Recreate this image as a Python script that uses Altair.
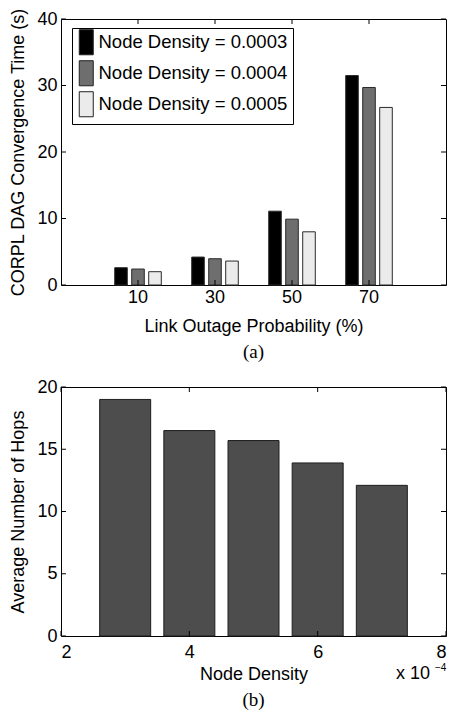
import altair as alt
import pandas as pd

# ---- data: panel (a)
groups = ["10", "30", "50", "70"]
series = ["Node Density = 0.0003", "Node Density = 0.0004", "Node Density = 0.0005"]
time_d3 = [2.6, 4.2, 11.1, 31.5]
time_d4 = [2.4, 3.95, 9.9, 29.7]
time_d5 = [2.0, 3.6, 8.0, 26.7]
series_colors = ["#000000", "#6e6e6e", "#ebebeb"]
y1_ticks = [0, 10, 20, 30, 40]

# ---- data: panel (b)
density = [3, 4, 5, 6, 7]  # x 10^-4
hops = [19.0, 16.5, 15.7, 13.9, 12.1]
x2_ticks = [2, 4, 6, 8]
y2_ticks = [0, 5, 10, 15, 20]
exp_base = ["x 10"]
exp_power = ["\u22124"]

W = 385
H1 = 266
H2 = 249
FONT = "Liberation Sans"
SERIF = "Liberation Serif"
FS = 18
TK = 5

rows = []
for s, vals in zip(series, [time_d3, time_d4, time_d5]):
    for g, v in zip(groups, vals):
        rows.append({"group": g, "series": s, "time": v})
df1 = pd.DataFrame(rows)

xscale1 = alt.Scale(domain=groups, paddingInner=0, paddingOuter=0.5)
yscale1 = alt.Scale(domain=[0, 40], nice=False)
xaxis1 = alt.Axis(title="Link Outage Probability (%)", labelAngle=0, labelPadding=3, titlePadding=11)
yaxis1 = alt.Axis(values=y1_ticks, title="CORPL DAG Convergence Time (s)")

bars1 = alt.Chart(df1).mark_bar(stroke="#2a2a2a", strokeWidth=1).encode(
    x=alt.X("group:N", scale=xscale1, sort=groups, axis=xaxis1),
    xOffset=alt.XOffset("series:N", sort=series,
                        scale=alt.Scale(paddingInner=0.26, paddingOuter=0.895)),
    y=alt.Y("time:Q", scale=yscale1, axis=yaxis1),
    fill=alt.Fill("series:N", sort=series,
                  scale=alt.Scale(domain=series, range=series_colors),
                  legend=alt.Legend(title=None, orient="none", legendX=11, legendY=9,
                                    strokeColor="black", fillColor="white", padding=5,
                                    symbolType="M-1,-1.79H1V1.79H-1Z", symbolSize=196,
                                    symbolStrokeColor="#222222", symbolStrokeWidth=1,
                                    labelFont=FONT, labelFontSize=18.5, labelColor="black",
                                    labelOffset=3, rowPadding=1, labelLimit=0)),
)

gdf = pd.DataFrame({"group": groups})
xt_top = alt.Chart(gdf).mark_rule(color="black").encode(
    x=alt.X("group:N", scale=xscale1, sort=groups, axis=xaxis1),
    y=alt.value(0), y2=alt.value(TK))
xt_bot = alt.Chart(gdf).mark_rule(color="black").encode(
    x=alt.X("group:N", scale=xscale1, sort=groups, axis=xaxis1),
    y=alt.value(H1 - TK), y2=alt.value(H1))
ydf1 = pd.DataFrame({"time": y1_ticks})
yt_l1 = alt.Chart(ydf1).mark_rule(color="black").encode(
    y=alt.Y("time:Q", scale=yscale1, axis=yaxis1), x=alt.value(0), x2=alt.value(TK))
yt_r1 = alt.Chart(ydf1).mark_rule(color="black").encode(
    y=alt.Y("time:Q", scale=yscale1, axis=yaxis1), x=alt.value(W - TK), x2=alt.value(W))

top = alt.layer(bars1, xt_top, xt_bot, yt_l1, yt_r1).properties(
    width=W, height=H1,
    title=alt.Title("(a)", orient="bottom", font=SERIF, fontSize=19,
                    fontWeight="normal", color="black", offset=8))

# ---- panel (b)
df2 = pd.DataFrame({"density": density, "hops": hops})
xscale2 = alt.Scale(domain=[2, 8], nice=False, padding=0)
yscale2 = alt.Scale(domain=[0, 20], nice=False)
xaxis2 = alt.Axis(values=x2_ticks, title="Node Density",
                  labelPadding=7, titlePadding=4)
yaxis2 = alt.Axis(values=y2_ticks, title="Average Number of Hops")

bars2 = alt.Chart(df2).mark_bar(size=51, color="#4d4d4d", stroke="#1e1e1e", strokeWidth=1).encode(
    x=alt.X("density:Q", scale=xscale2, axis=xaxis2),
    y=alt.Y("hops:Q", scale=yscale2, axis=yaxis2),
)
xdf2 = pd.DataFrame({"density": x2_ticks})
xt_top2 = alt.Chart(xdf2).mark_rule(color="black").encode(
    x=alt.X("density:Q", scale=xscale2, axis=xaxis2), y=alt.value(0), y2=alt.value(TK))
xt_bot2 = alt.Chart(xdf2).mark_rule(color="black").encode(
    x=alt.X("density:Q", scale=xscale2, axis=xaxis2), y=alt.value(H2 - TK), y2=alt.value(H2))
ydf2 = pd.DataFrame({"hops": y2_ticks})
yt_l2 = alt.Chart(ydf2).mark_rule(color="black").encode(
    y=alt.Y("hops:Q", scale=yscale2, axis=yaxis2), x=alt.value(0), x2=alt.value(TK))
yt_r2 = alt.Chart(ydf2).mark_rule(color="black").encode(
    y=alt.Y("hops:Q", scale=yscale2, axis=yaxis2), x=alt.value(W - TK), x2=alt.value(W))

exp1 = alt.Chart(pd.DataFrame({"t": exp_base})).mark_text(
    align="left", baseline="alphabetic", font=FONT, fontSize=FS, color="black").encode(
    text="t:N", x=alt.value(335), y=alt.value(292))
exp2 = alt.Chart(pd.DataFrame({"t": exp_power})).mark_text(
    align="left", baseline="alphabetic", font=FONT, fontSize=10, color="black").encode(
    text="t:N", x=alt.value(374), y=alt.value(284))

bottom = alt.layer(bars2, xt_top2, xt_bot2, yt_l2, yt_r2, exp1, exp2).properties(
    width=W, height=H2,
    title=alt.Title("(b)", orient="bottom", font=SERIF, fontSize=19,
                    fontWeight="normal", color="black", offset=8))

chart = alt.vconcat(top, bottom, spacing=14).properties(
    padding={"left": 8, "top": 7, "right": 0, "bottom": 0}
).configure_axis(
    labelFont=FONT, titleFont=FONT, labelFontSize=FS, titleFontSize=FS,
    labelColor="black", titleColor="black", titleFontWeight="normal",
    tickSize=0, domain=False, grid=False,
).configure_axisY(
    minExtent=24, maxExtent=24, labelPadding=4, titlePadding=10,
).configure_view(stroke="black", strokeWidth=1)

chart.save("out.html", embed_options={"renderer": "svg", "actions": False})
